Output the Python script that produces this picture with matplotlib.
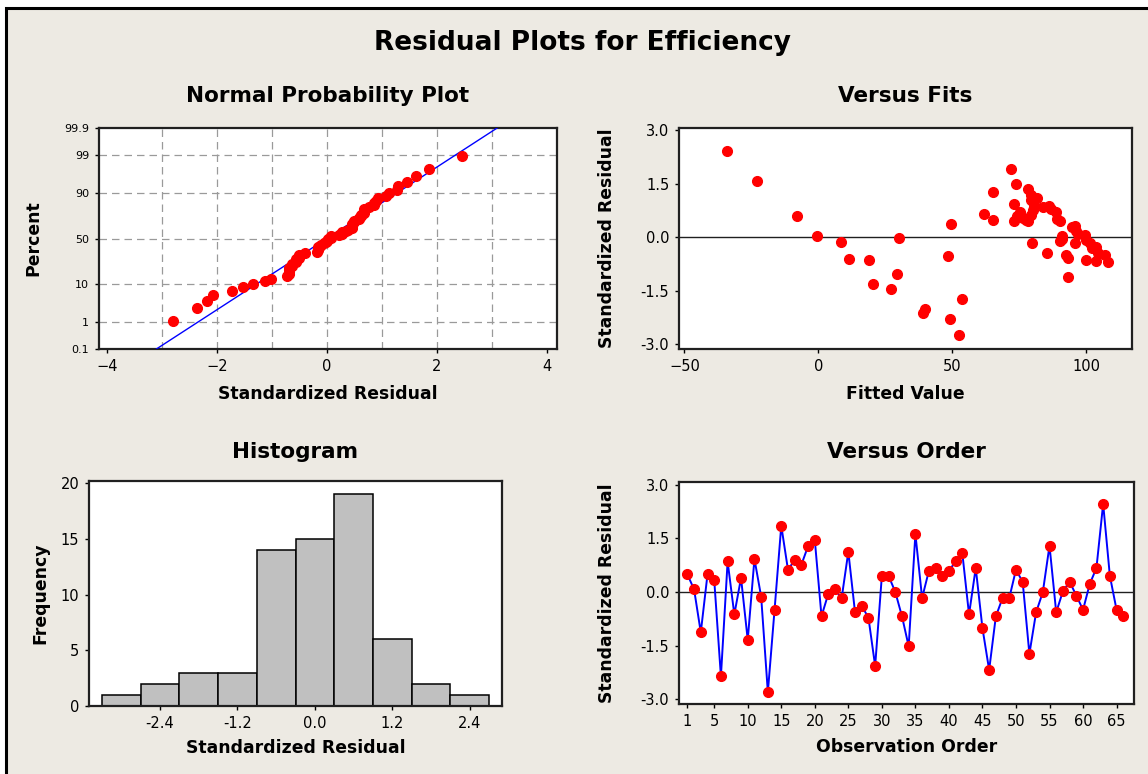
import matplotlib
matplotlib.use('Agg')
import matplotlib.pyplot as plt
import numpy as np
from matplotlib.patches import Rectangle
from statistics import NormalDist

plt.rcParams['font.family'] = ['DejaVu Sans']

# standardized residuals in observation order (1..66)
residuals = [0.49, 0.07, -1.13, 0.49, 0.34, -2.36, 0.85, -0.63, 0.39, -1.34,
             0.92, -0.13, -2.80, -0.50, 1.85, 0.62, 0.89, 0.76, 1.28, 1.45,
             -0.68, -0.06, 0.07, -0.18, 1.12, -0.57, -0.39, -0.72, -2.07, 0.45,
             0.45, 0.00, -0.68, -1.52, 1.62, -0.17, 0.58, 0.67, 0.45, 0.58,
             0.86, 1.08, -0.63, 0.67, -1.01, -2.18, -0.68, -0.17, -0.17, 0.62,
             0.28, -1.73, -0.57, -0.01, 1.29, -0.57, 0.02, 0.28, -0.10, -0.50,
             0.22, 0.67, 2.46, 0.45, -0.50, -0.68]

# versus fits panel
fitted = [-34.1, -23.0, -7.8, -0.4, 8.3, 11.3, 18.8, 20.5, 27.0, 29.2,
          30.2, 38.9, 39.8, 48.4, 49.3, 49.1, 52.4, 53.4, 61.8, 65.0,
          65.0, 71.7, 73.9, 72.9, 72.9, 75.1, 76.4, 78.2, 79.3, 79.5,
          80.1, 79.5, 78.2, 81.4, 79.8, 83.8, 85.9, 85.2, 88.8, 89.2,
          90.0, 90.7, 90.2, 92.5, 93.2, 93.3, 95.6, 96.1, 95.6, 99.4,
          100.0, 100.0, 101.2, 103.7, 103.7, 106.8, 108.0, 74.0, 77.5, 86.8,
          91.0, 97.0, 102.0, 80.5, 94.5, 104.5]
fit_resid = [2.43, 1.59, 0.59, 0.03, -0.14, -0.60, -0.64, -1.30, -1.46, -1.02,
             -0.01, -2.12, -2.00, -0.51, 0.39, -2.30, -2.75, -1.74, 0.67, 0.49,
             1.27, 1.91, 1.51, 0.95, 0.45, 0.70, 0.55, 1.36, 1.05, 1.18,
             0.78, 0.62, 0.45, 1.12, -0.17, 0.84, 0.89, -0.45, 0.71, 0.52,
             0.46, 0.05, -0.10, -0.50, -0.57, -1.12, 0.33, 0.19, -0.17, 0.08,
             -0.07, -0.62, -0.16, -0.28, -0.67, -0.50, -0.68, 0.60, 0.48, 0.80,
             -0.05, 0.10, -0.30, 0.90, 0.30, -0.45]

hist_edges = np.linspace(-3.3, 2.7, 11)
pct_ticks = [0.1, 1, 10, 50, 90, 99, 99.9]
pct_labels = ['0.1', '1', '10', '50', '90', '99', '99.9']
pct_grid = [1, 10, 50, 90, 99]
order_ticks = [1, 5, 10, 15, 20, 25, 30, 35, 40, 45, 50, 55, 60, 65]
resid_ticks = [-3.0, -1.5, 0.0, 1.5, 3.0]

BG = '#EDEAE3'
W, H = 1148, 774
fig = plt.figure(figsize=(W / 100, H / 100), dpi=100)
fig.patch.set_facecolor('white')
fig.patches.append(Rectangle((6 / W, -0.05), 1.2, 1.05 - 8 / H, transform=fig.transFigure,
                             facecolor=BG, edgecolor='black', linewidth=2.2, zorder=-10))


def px_axes(l, r, t, b):
    return fig.add_axes([l / W, 1 - b / H, (r - l) / W, (b - t) / H])


def style(ax):
    for s in ax.spines.values():
        s.set_linewidth(1.6)
        s.set_color('#202020')
    ax.tick_params(direction='out', length=3, width=1, labelsize=10.5, pad=4)


tfont = dict(fontsize=15.5, fontweight='bold')
lfont = dict(fontsize=12.4, fontweight='bold')
dot = dict(marker='o', color='red', markersize=7, linestyle='none', zorder=5)

# --- Normal probability plot
ax1 = px_axes(99, 557, 128, 349)
style(ax1)
n = len(residuals)
srt = np.sort(residuals)
probs = [(i - 0.3) / (n + 0.4) for i in range(1, n + 1)]
z = [NormalDist().inv_cdf(p) for p in probs]
zlim = NormalDist().inv_cdf(0.999)
mu, sd = np.mean(residuals), np.std(residuals, ddof=1)
ax1.plot([mu - sd * zlim, mu + sd * zlim], [-zlim, zlim], color='blue', lw=1, zorder=3)
ax1.plot(srt, z, **dot)
for g in [-3, -2, -1, 0, 1, 2, 3]:
    ax1.axvline(g, color='#9A9A9A', lw=0.9, ls=(0, (6, 4)), zorder=1)
for g in pct_grid:
    ax1.axhline(NormalDist().inv_cdf(g / 100), color='#9A9A9A', lw=0.9, ls=(0, (6, 4)), zorder=1)
ax1.set_ylim(-zlim, zlim)
ax1.set_xlim(-4.14, 4.18)
ax1.set_xticks([-4, -2, 0, 2, 4])
ax1.set_yticks([NormalDist().inv_cdf(p / 100) for p in pct_ticks])
ax1.set_yticklabels(pct_labels, fontsize=8)
ax1.set_title('Normal Probability Plot', pad=19, **tfont)
ax1.set_xlabel('Standardized Residual', labelpad=8, **lfont)
ax1.set_ylabel('Percent', labelpad=16, **lfont)

# --- Versus fits
ax2 = px_axes(679, 1132, 128, 349)
style(ax2)
ax2.axhline(0, color='#202020', lw=1, zorder=2)
ax2.plot(fitted, fit_resid, **dot)
ax2.set_xlim(-52, 117)
ax2.set_ylim(-3.13, 3.07)
ax2.set_xticks([-50, 0, 50, 100])
ax2.set_yticks(resid_ticks)
ax2.set_yticklabels([f'{v:.1f}' for v in resid_ticks])
ax2.set_title('Versus Fits', pad=19, **tfont)
ax2.set_xlabel('Fitted Value', labelpad=8, **lfont)
ax2.set_ylabel('Standardized Residual', labelpad=18, **lfont)

# --- Histogram
ax3 = px_axes(89, 502, 481, 706)
style(ax3)
ax3.hist(residuals, bins=hist_edges, color='#C0C0C0', edgecolor='black', linewidth=1.1)
ax3.set_xlim(-3.5, 2.9)
ax3.set_ylim(0, 20.2)
ax3.set_xticks([-2.4, -1.2, 0.0, 1.2, 2.4])
ax3.set_xticklabels(['-2.4', '-1.2', '0.0', '1.2', '2.4'])
ax3.set_yticks([0, 5, 10, 15, 20])
ax3.set_title('Histogram', pad=16.5, **tfont)
ax3.set_xlabel('Standardized Residual', labelpad=6, **lfont)
ax3.set_ylabel('Frequency', labelpad=8, **lfont)

# --- Versus order
ax4 = px_axes(679, 1134, 482, 704)
style(ax4)
obs = np.arange(1, n + 1)
ax4.axhline(0, color='#202020', lw=1, zorder=2)
ax4.plot(obs, residuals, color='blue', lw=1.4, zorder=4)
ax4.plot(obs, residuals, **dot)
ax4.set_xlim(-0.25, 67.6)
ax4.set_ylim(-3.13, 3.07)
ax4.set_xticks(order_ticks)
ax4.set_yticks(resid_ticks)
ax4.set_yticklabels([f'{v:.1f}' for v in resid_ticks])
ax4.set_title('Versus Order', pad=17, **tfont)
ax4.set_xlabel('Observation Order', labelpad=7, **lfont)
ax4.set_ylabel('Standardized Residual', labelpad=18, **lfont)

fig.text(582 / W, 1 - 43 / H, 'Residual Plots for Efficiency', ha='center', va='center',
         fontsize=19, fontweight='bold')

fig.savefig('out.png', dpi=100, facecolor=fig.get_facecolor())
